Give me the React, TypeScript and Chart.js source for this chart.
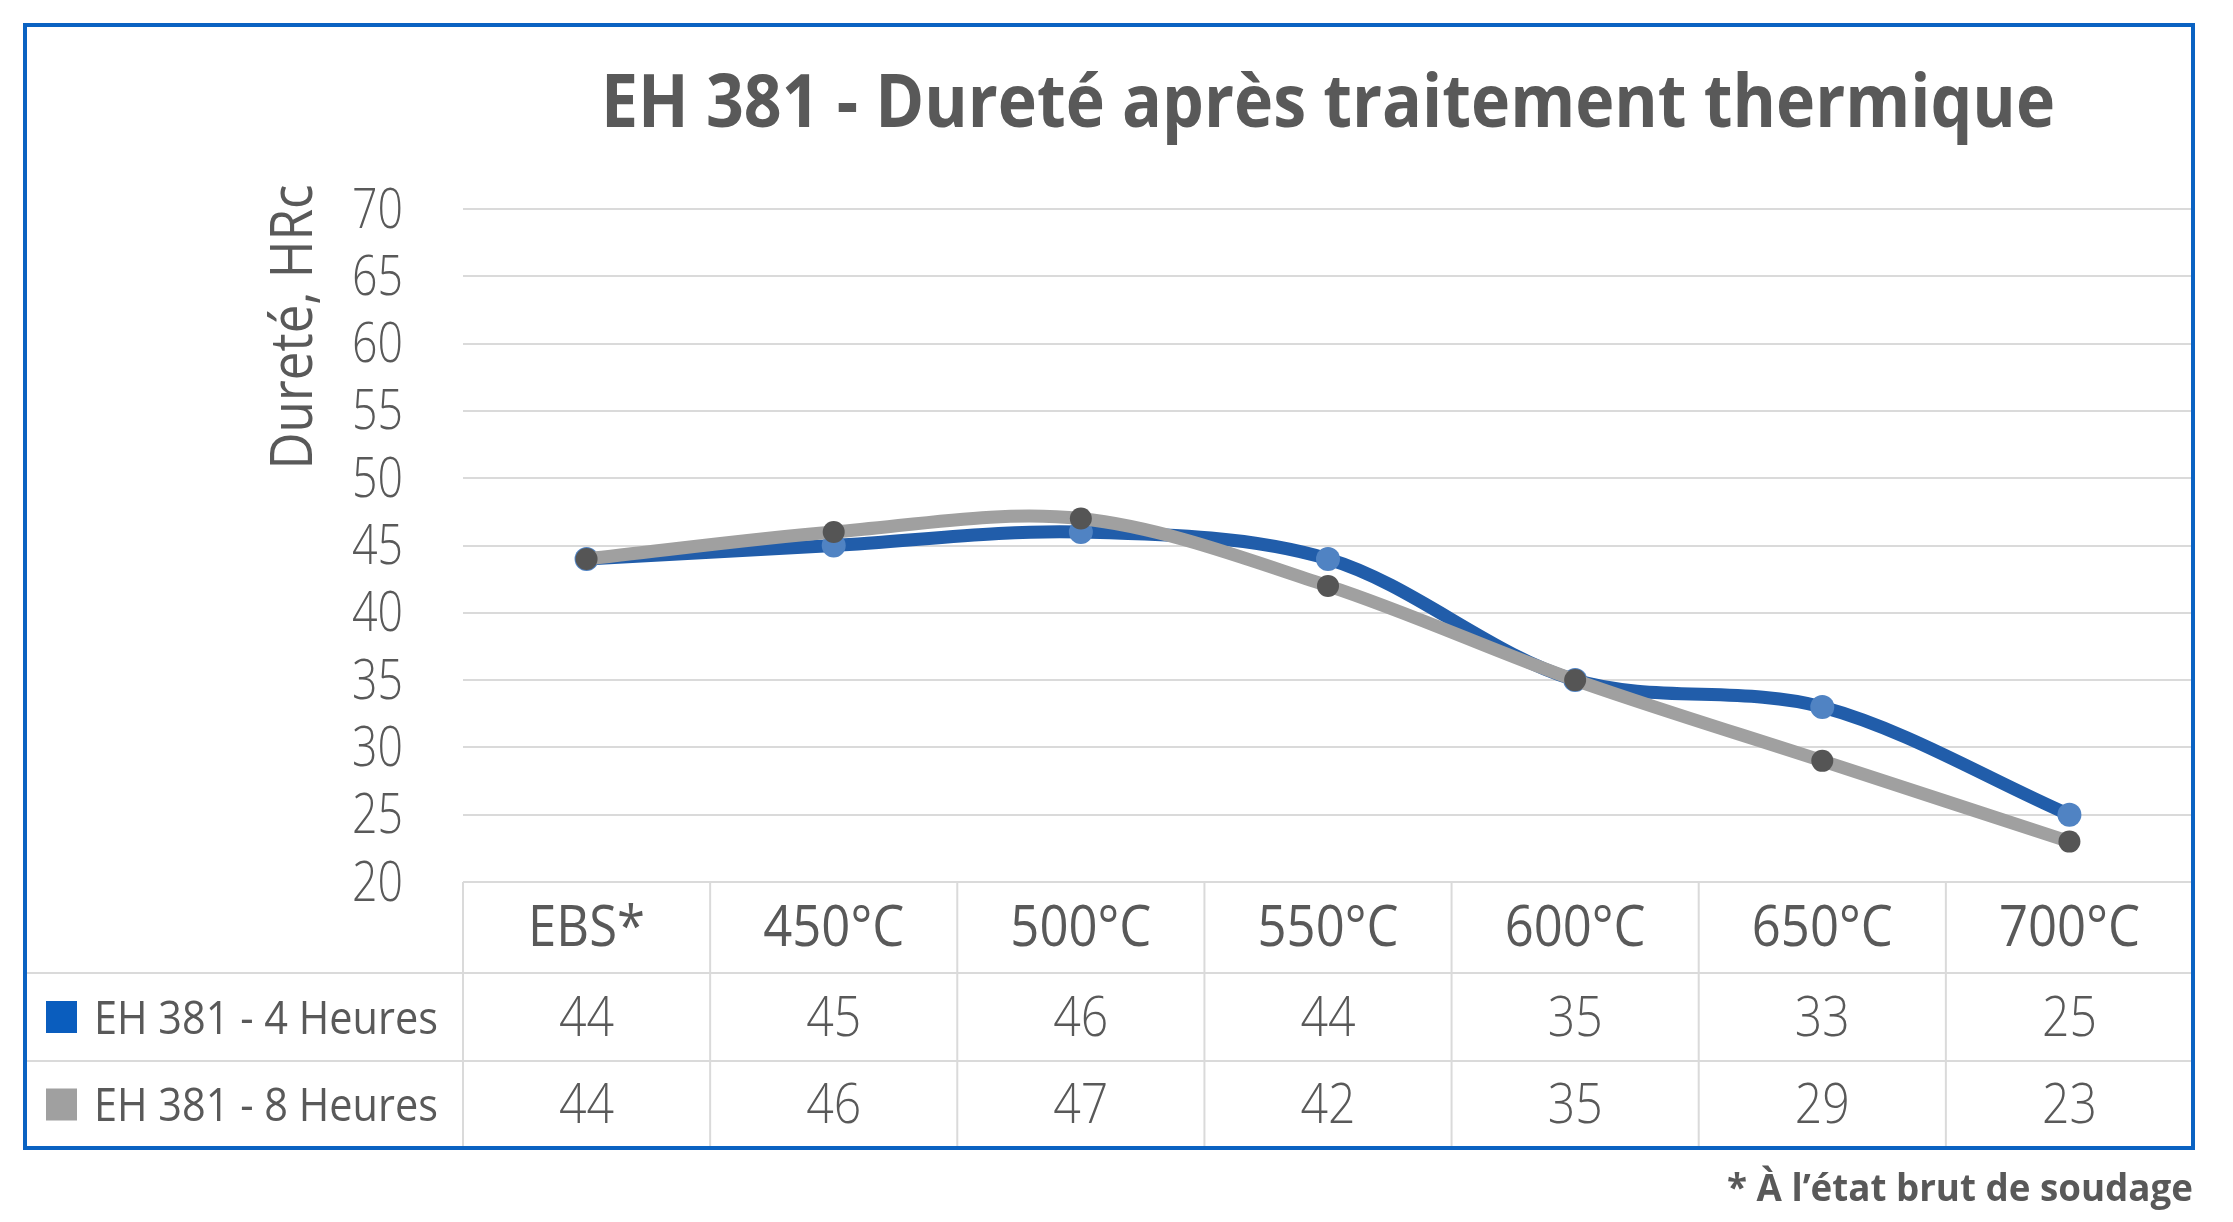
import React, { useEffect, useRef } from "react";
import { Chart, registerables } from "chart.js";

Chart.register(...registerables);

const CATEGORIES = ["EBS*", "450°C", "500°C", "550°C", "600°C", "650°C", "700°C"];
const SERIES_4H = [44, 45, 46, 44, 35, 33, 25];
const SERIES_8H = [44, 46, 47, 42, 35, 29, 23];
const SERIES_LABELS = ["EH 381 - 4 Heures", "EH 381 - 8 Heures"];
const Y_TICKS = [20, 25, 30, 35, 40, 45, 50, 55, 60, 65, 70];
const TITLE = "EH 381 - Dureté après traitement thermique";
const Y_TITLE = "Dureté, HRc";
const FOOTNOTE = "* À l’état brut de soudage";

const W = 2233;
const H = 1222;
const FONT = "'Open Sans', 'Noto Sans', 'DejaVu Sans', sans-serif";
const TEXT = "#595959";
const GRID = "#DADADA";
const FRAME = "#0A62C2";
const BLUE_LINE = "#215DAA";
const BLUE_POINT = "#5083C3";
const BLUE_KEY = "#0A5DBE";
const GRAY_LINE = "#A0A0A0";
const GRAY_POINT = "#555555";
const GRAY_KEY = "#A0A0A0";

// layout constants
const FRAME_L = 25, FRAME_T = 25, FRAME_R = 2193, FRAME_B = 1148;
const ROW_LINES = [973, 1061];

type Align = "left" | "center" | "right";

function setFont(ctx: CanvasRenderingContext2D, size: number, weight: number) {
  ctx.font = `${weight} ${size}px ${FONT}`;
}

function fitFactor(ctx: CanvasRenderingContext2D, s: string, size: number, weight: number, target: number) {
  setFont(ctx, size, weight);
  return target / ctx.measureText(s).width;
}

function capHeight(ctx: CanvasRenderingContext2D, size: number, weight: number, sample = "0") {
  setFont(ctx, size, weight);
  const m = ctx.measureText(sample);
  return m.actualBoundingBoxAscent;
}

function drawText(
  ctx: CanvasRenderingContext2D,
  s: string,
  x: number,
  y: number,
  size: number,
  weight: number,
  color: string,
  align: Align,
  sx: number
) {
  ctx.save();
  setFont(ctx, size, weight);
  ctx.fillStyle = color;
  ctx.textAlign = "left";
  ctx.textBaseline = "alphabetic";
  const w = ctx.measureText(s).width * sx;
  const x0 = align === "center" ? x - w / 2 : align === "right" ? x - w : x;
  ctx.translate(x0, y);
  ctx.scale(sx, 1);
  ctx.fillText(s, 0, 0);
  ctx.restore();
}

const decorPlugin = {
  id: "decor",
  afterDraw(chart: any) {
    const ctx: CanvasRenderingContext2D = chart.ctx;
    const ca = chart.chartArea;
    const xs = chart.scales.x;
    const ys = chart.scales.y;
    const colW = xs.getPixelForValue(1) - xs.getPixelForValue(0);
    const left0 = xs.getPixelForValue(0) - colW / 2;

    // table lines
    ctx.save();
    ctx.strokeStyle = GRID;
    ctx.lineWidth = 2;
    ctx.beginPath();
    for (const y of ROW_LINES) {
      ctx.moveTo(FRAME_L, y);
      ctx.lineTo(ca.right, y);
    }
    for (let i = 0; i < CATEGORIES.length; i++) {
      const x = left0 + i * colW;
      ctx.moveTo(x, ca.bottom);
      ctx.lineTo(x, FRAME_B);
    }
    ctx.stroke();
    ctx.restore();

    // y tick labels
    const tickSize = 56;
    const tickSx = fitFactor(ctx, "70", tickSize, 300, 51);
    const tickCap = capHeight(ctx, tickSize, 300);
    for (const t of ys.ticks) {
      const y = ys.getPixelForValue(t.value);
      drawText(ctx, String(t.value), ca.left - 60, y + tickCap / 2 - 2, tickSize, 300, TEXT, "right", tickSx);
    }

    // y axis title (rotated)
    const ytSize = 58;
    const ytSx = fitFactor(ctx, Y_TITLE, ytSize, 400, 285);
    ctx.save();
    ctx.translate(312, 327);
    ctx.rotate(-Math.PI / 2);
    drawText(ctx, Y_TITLE, 0, 0, ytSize, 400, TEXT, "center", ytSx);
    ctx.restore();

    // title
    const tSize = 73;
    const tSx = fitFactor(ctx, TITLE, tSize, 700, 1454);
    drawText(ctx, TITLE, (ca.left + ca.right) / 2, 127, tSize, 700, TEXT, "center", tSx);

    // header row (categories)
    const rowTops = [ca.bottom, ROW_LINES[0], ROW_LINES[1], FRAME_B];
    const catSize = 57;
    const catSx = fitFactor(ctx, CATEGORIES[1], catSize, 400, 141);
    const catCap = capHeight(ctx, catSize, 400, "E");
    const hc = (rowTops[0] + rowTops[1]) / 2;
    CATEGORIES.forEach((c, i) => {
      drawText(ctx, c, xs.getPixelForValue(i), hc + catCap / 2 - 2, catSize, 400, TEXT, "center", catSx);
    });

    // value rows + legend
    const valSize = 56;
    const valSx = fitFactor(ctx, "44", valSize, 300, 55);
    const valCap = capHeight(ctx, valSize, 300);
    const legSize = 45;
    const legSx = fitFactor(ctx, SERIES_LABELS[0], legSize, 400, 344);
    const legCap = capHeight(ctx, legSize, 400, "E");
    const series = [SERIES_4H, SERIES_8H];
    const keys = [BLUE_KEY, GRAY_KEY];
    series.forEach((vals, r) => {
      const cy = (rowTops[r + 1] + rowTops[r + 2]) / 2;
      vals.forEach((v, i) => {
        drawText(ctx, String(v), xs.getPixelForValue(i), cy + valCap / 2 - 2, valSize, 300, TEXT, "center", valSx);
      });
      ctx.fillStyle = keys[r];
      ctx.fillRect(46, cy - 16, 31, 32);
      drawText(ctx, SERIES_LABELS[r], 94, cy + legCap / 2, legSize, 400, TEXT, "left", legSx);
    });

    // frame
    ctx.save();
    ctx.strokeStyle = FRAME;
    ctx.lineWidth = 4;
    ctx.strokeRect(FRAME_L, FRAME_T, FRAME_R - FRAME_L, FRAME_B - FRAME_T);
    ctx.restore();

    // footnote
    const fSize = 38;
    const fSx = fitFactor(ctx, FOOTNOTE, fSize, 700, 466);
    drawText(ctx, FOOTNOTE, FRAME_R, 1201, fSize, 700, TEXT, "right", fSx);
  },
};

export default function App() {
  const ref = useRef<HTMLCanvasElement | null>(null);

  useEffect(() => {
    document.body.style.margin = "0";
    const canvas = ref.current;
    if (!canvas) return;
    const chart = new Chart(canvas, {
      type: "line",
      data: {
        labels: CATEGORIES,
        datasets: [
          {
            label: SERIES_LABELS[0],
            data: SERIES_4H,
            borderColor: BLUE_LINE,
            borderWidth: 13,
            pointRadius: 12,
            pointBackgroundColor: BLUE_POINT,
            pointBorderColor: BLUE_POINT,
            pointBorderWidth: 0,
            tension: 0.33,
            fill: false,
            order: 1,
          },
          {
            label: SERIES_LABELS[1],
            data: SERIES_8H,
            borderColor: GRAY_LINE,
            borderWidth: 13,
            pointRadius: 11,
            pointBackgroundColor: GRAY_POINT,
            pointBorderColor: GRAY_POINT,
            pointBorderWidth: 0,
            tension: 0.33,
            fill: false,
            order: 0,
          },
        ],
      },
      options: {
        responsive: false,
        maintainAspectRatio: false,
        devicePixelRatio: 1,
        animation: false,
        layout: { padding: { left: 463, right: W - FRAME_R, top: 209, bottom: H - 882 } },
        plugins: {
          legend: { display: false },
          title: { display: false },
          tooltip: { enabled: false },
        },
        scales: {
          x: {
            type: "category",
            display: false,
            offset: true,
          },
          y: {
            min: Y_TICKS[0],
            max: Y_TICKS[Y_TICKS.length - 1],
            afterBuildTicks: (scale: any) => {
              scale.ticks = Y_TICKS.map((v) => ({ value: v }));
            },
            afterFit: (scale: any) => {
              scale.width = 0;
            },
            ticks: { display: false },
            border: { display: false },
            grid: { color: GRID, lineWidth: 2, drawTicks: false },
          },
        },
      },
      plugins: [decorPlugin],
    });
    return () => chart.destroy();
  }, []);

  return (
    <div style={{ position: "fixed", left: 0, top: 0, width: W, height: H, background: "#fff" }}>
      <canvas ref={ref} width={W} height={H} style={{ width: W, height: H, display: "block" }} />
    </div>
  );
}
